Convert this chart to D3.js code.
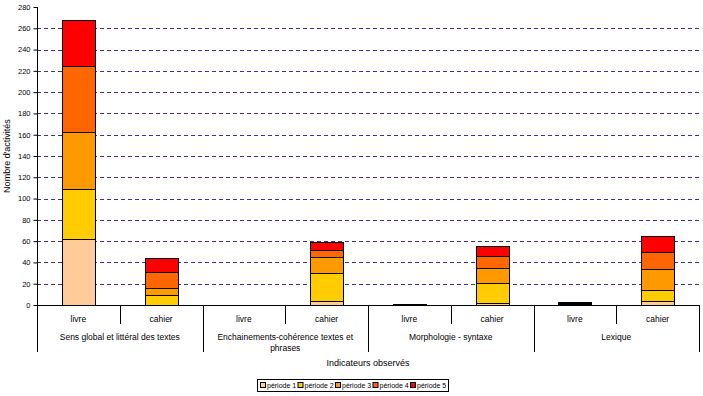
<!DOCTYPE html>
<html>
<head>
<meta charset="utf-8">
<script src="https://cdn.jsdelivr.net/npm/d3@7"></script>
<style>
	body{margin:0;background:#fff;}
	text{font-family:"Liberation Sans",Arial,sans-serif;fill:#000;}
</style>
</head>
<body>
<div id="idChart"></div>
<script>
// donnees
var aGroupes=["Sens global et littéral des textes","Enchainements-cohérence textes et phrases","Morphologie - syntaxe","Lexique"];
var aSupports=["livre","cahier"];
var aPeriodes=["période 1","période 2","période 3","période 4","période 5"];
var aP1=[62,0,0,4,1,2,0,4];
var aP2=[47,9,0,26,0,19,1,10];
var aP3=[54,7,0,15,0,14,1,20];
var aP4=[62,15,0,7,0,11,1,16];
var aP5=[43,13,0,7,0,9,0,15];
var aTicks=[0,20,40,60,80,100,120,140,160,180,200,220,240,260,280];
var aCouleurs=["#FFCC99","#FFCC00","#FF9900","#FF6600","#FF0000"];

var iWidth=703, iHeight=396;
var iLeft=37, iRight=699, iTop=7, iBottom=305;

var mySvg=d3.select("#idChart").append("svg")
	.attr("width",iWidth)
	.attr("height",iHeight);

// une entree par barre : groupe x support
var aBarres=[];
aGroupes.forEach(function(sGroupe,i){
	aSupports.forEach(function(sSupport,j){
		var k=i*2+j;
		aBarres.push({sKey:k+"", sGroupe:sGroupe, sSupport:sSupport,
			p0:aP1[k], p1:aP2[k], p2:aP3[k], p3:aP4[k], p4:aP5[k]});
	});
});

var xScale=d3.scaleBand()
	.domain(aBarres.map(function(d){return d.sKey;}))
	.range([iLeft,iRight])
	.paddingInner(0.6)
	.paddingOuter(0.3);

var yScale=d3.scaleLinear()
	.domain([0,280])
	.range([iBottom,iTop]);

// quadrillage
mySvg.append("g").selectAll("line")
	.data(aTicks.filter(function(v){return v>0 && v<280;}))
	.enter().append("line")
		.attr("x1",iLeft).attr("x2",iRight)
		.attr("y1",function(v){return Math.round(yScale(v))+0.5;})
		.attr("y2",function(v){return Math.round(yScale(v))+0.5;})
		.attr("stroke","#333399")
		.attr("stroke-dasharray","4,3");

// barres empilees
var myStack=d3.stack().keys(["p0","p1","p2","p3","p4"]);
var aSeries=myStack(aBarres);

mySvg.append("g").selectAll("g")
	.data(aSeries)
	.enter().append("g")
		.attr("fill",function(s,i){return aCouleurs[i];})
	.selectAll("rect")
	.data(function(s){return s.filter(function(d){return d[1]-d[0]>0;});})
	.enter().append("rect")
		.attr("x",function(d){return Math.round(xScale(d.data.sKey))+0.5;})
		.attr("width",Math.round(xScale.bandwidth()))
		.attr("y",function(d){return Math.round(yScale(d[1]))+0.5;})
		.attr("height",function(d){return Math.round(yScale(d[0]))-Math.round(yScale(d[1]));})
		.attr("stroke","#000")
		.attr("stroke-width",1);

// axe vertical
var yAxis=mySvg.append("g")
	.attr("transform","translate("+(iLeft+0.5)+",0)")
	.call(d3.axisLeft(yScale).tickValues(aTicks).tickSize(4).tickPadding(3));
yAxis.selectAll("text").style("font-size","7.5px").attr("font-family","Liberation Sans, Arial");
yAxis.selectAll("line,path").attr("stroke","#000");
yAxis.select(".domain").attr("d","M0,"+iTop+"V"+iBottom);

mySvg.append("text")
	.attr("transform","translate(10,"+((iTop+iBottom)/2)+") rotate(-90)")
	.attr("text-anchor","middle")
	.style("font-size","9px")
	.text("Nombre d'activités");

// axe horizontal et categories
var iStep=xScale.step();
var gX=mySvg.append("g");
gX.append("line")
	.attr("x1",iLeft).attr("x2",iRight)
	.attr("y1",iBottom+0.5).attr("y2",iBottom+0.5)
	.attr("stroke","#000");

gX.selectAll(".sep")
	.data(d3.range(aBarres.length+1))
	.enter().append("line")
		.attr("class","sep")
		.attr("x1",function(i){return Math.round(iLeft+i*iStep)+0.5;})
		.attr("x2",function(i){return Math.round(iLeft+i*iStep)+0.5;})
		.attr("y1",iBottom)
		.attr("y2",function(i){return i%2==0 ? 352 : 324;})
		.attr("stroke","#000");

gX.selectAll(".sup")
	.data(aBarres)
	.enter().append("text")
		.attr("class","sup")
		.attr("x",function(d){return xScale(d.sKey)+xScale.bandwidth()/2;})
		.attr("y",322)
		.attr("text-anchor","middle")
		.style("font-size","8.5px")
		.text(function(d){return d.sSupport;});

gX.selectAll(".grp")
	.data(aGroupes)
	.enter().append("text")
		.attr("class","grp")
		.attr("x",function(d,i){return iLeft+(i*2+1)*iStep;})
		.attr("y",340)
		.attr("text-anchor","middle")
		.style("font-size","8.5px")
		.each(function(sLabel){
			var myText=d3.select(this);
			var iMax=iStep*2-12;
			var aMots=sLabel.split(" ");
			var aLignes=[];
			var sLigne="";
			aMots.forEach(function(sMot){
				var sTest=sLigne ? sLigne+" "+sMot : sMot;
				myText.text(sTest);
				if(this.getComputedTextLength && myText.node().getComputedTextLength()>iMax && sLigne){
					aLignes.push(sLigne);
					sLigne=sMot;
				}else{
					sLigne=sTest;
				}
			},this);
			aLignes.push(sLigne);
			myText.text(null);
			aLignes.forEach(function(s,j){
				myText.append("tspan")
					.attr("x",myText.attr("x"))
					.attr("dy",j==0 ? 0 : 11)
					.text(s);
			});
		});

mySvg.append("text")
	.attr("x",(iLeft+iRight)/2)
	.attr("y",366)
	.attr("text-anchor","middle")
	.style("font-size","9px")
	.text("Indicateurs observés");

// legende
var iLegX=257, iLegY=379, iLegW=191, iLegH=12;
var gLeg=mySvg.append("g").attr("transform","translate("+iLegX+","+iLegY+")");
gLeg.append("rect")
	.attr("x",0.5).attr("y",0.5)
	.attr("width",iLegW).attr("height",iLegH)
	.attr("fill","#fff").attr("stroke","#000");
var gItems=gLeg.selectAll(".leg")
	.data(aPeriodes)
	.enter().append("g")
		.attr("class","leg")
		.attr("transform",function(d,i){return "translate("+(3+i*37.5)+",0)";});
gItems.append("rect")
	.attr("x",0.5).attr("y",3.5)
	.attr("width",5).attr("height",5)
	.attr("fill",function(d,i){return aCouleurs[i];})
	.attr("stroke","#000");
gItems.append("text")
	.attr("x",7).attr("y",9)
	.style("font-size","7px")
	.text(function(d){return d;});
</script>
</body>
</html>
